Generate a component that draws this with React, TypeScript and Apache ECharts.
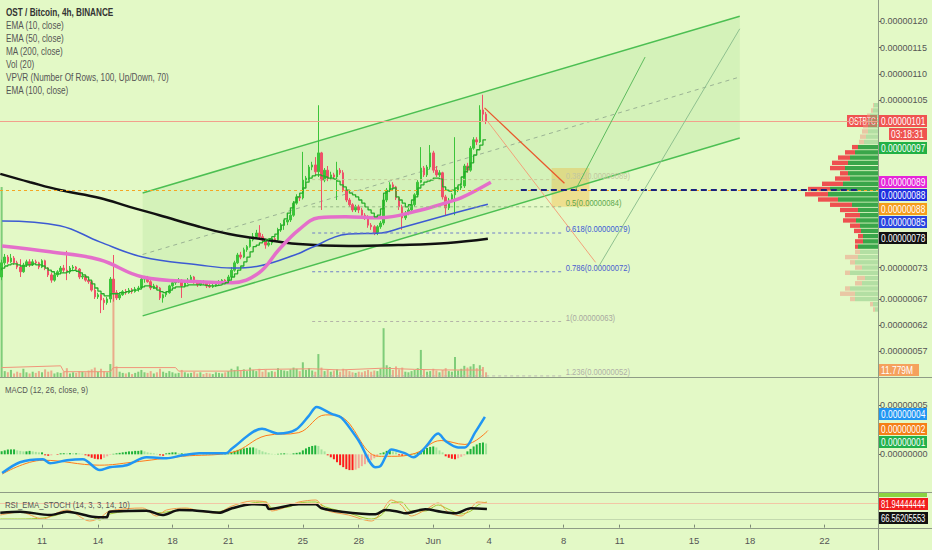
import React, { useEffect, useRef } from "react";
import * as echarts from "echarts";

const FONT = "'Liberation Sans', Arial, sans-serif";
const BG = "#e3f9c6";

// x values are days counted in May (32 = 1 June); prices are in satoshi (1e-8 BTC)
const X_MIN = 8.745;
const X_MAX = 55.87;
const FIRST_BAR_DAY = 8.833; // first 4h candle
const BARS_PER_DAY = 6;
const PRICE_MIN = 52.1;
const PRICE_MAX = 124.1;
const VOL_MAX = 641;

const xTickDays = [11, 14, 18, 21, 25, 28, 32, 35, 39, 42, 46, 49, 53];
const xTickLabels = ["11", "14", "18", "21", "25", "28", "Jun", "4", "8", "11", "15", "18", "22"];
const priceTicks = [57, 62, 67, 73, 105, 110, 115, 120];
const macdTicks = [0, 5];

// [open, close, low, high]
const candles: number[][] = [
  [71.2, 73.9, 70.6, 74.5], [73.9, 75.0, 73.5, 75.6], [75.0, 74.1, 73.7, 75.4], [74.1, 74.8, 73.9, 75.6],
  [74.8, 73.9, 73.5, 75.2], [73.9, 73.1, 72.7, 74.3], [73.1, 72.2, 71.2, 74.6], [72.2, 73.5, 72.0, 73.9],
  [73.5, 74.1, 73.1, 74.5], [74.1, 73.5, 73.1, 74.6], [73.5, 74.1, 73.3, 74.6], [74.1, 73.9, 73.5, 74.5],
  [73.9, 73.1, 72.7, 74.1], [73.1, 74.3, 72.9, 74.6], [74.3, 72.9, 72.5, 74.5], [72.9, 71.6, 71.2, 73.1],
  [71.6, 70.6, 70.1, 72.0], [70.6, 71.6, 70.3, 72.0], [71.6, 72.2, 71.2, 72.5], [72.2, 72.9, 71.8, 73.3],
  [72.9, 72.5, 72.0, 73.5], [72.5, 72.2, 70.6, 76.2], [72.2, 72.9, 71.8, 73.3], [72.9, 73.1, 72.5, 73.5],
  [73.1, 72.7, 72.5, 73.3], [72.7, 71.2, 70.8, 72.9], [71.2, 71.4, 70.8, 71.8], [71.4, 70.6, 70.3, 71.6],
  [70.6, 70.3, 69.9, 71.0], [70.3, 68.7, 68.4, 70.6], [68.7, 67.4, 67.0, 69.1], [67.4, 67.8, 67.0, 68.2],
  [67.8, 66.8, 64.3, 68.0], [66.8, 66.3, 64.9, 67.2], [66.3, 67.0, 65.9, 67.4], [67.0, 70.8, 66.3, 71.2],
  [70.8, 68.2, 66.5, 75.4], [68.2, 67.2, 66.8, 68.7], [67.2, 67.8, 66.8, 68.2], [67.8, 68.4, 67.6, 68.7],
  [68.4, 68.2, 67.8, 68.9], [68.2, 68.7, 68.0, 69.1], [68.7, 68.4, 68.0, 69.1], [68.4, 68.9, 68.2, 69.3],
  [68.9, 69.1, 68.4, 69.5], [69.1, 70.8, 68.9, 71.2], [70.8, 71.0, 70.1, 71.4], [71.0, 70.3, 70.1, 71.4],
  [70.3, 69.1, 68.7, 70.6], [69.1, 69.5, 68.9, 69.9], [69.5, 69.1, 68.7, 69.7], [69.1, 67.2, 66.8, 69.3],
  [67.2, 67.8, 66.3, 68.0], [67.8, 68.2, 67.4, 68.4], [68.2, 69.5, 68.0, 69.7], [69.5, 70.1, 69.3, 70.6],
  [70.1, 70.3, 69.7, 70.8], [70.3, 70.6, 70.1, 71.0], [70.6, 69.5, 67.2, 70.8], [69.5, 70.1, 69.3, 70.3],
  [70.1, 70.6, 69.9, 71.0], [70.6, 71.2, 70.3, 71.6], [71.2, 70.1, 69.9, 71.4], [70.1, 69.7, 69.3, 70.3],
  [69.7, 70.3, 69.5, 70.6], [70.3, 70.1, 69.7, 70.6], [70.1, 69.5, 69.1, 70.3], [69.5, 69.3, 69.1, 69.9],
  [69.3, 69.5, 69.1, 69.9], [69.5, 69.9, 69.3, 70.1], [69.9, 70.3, 69.7, 70.6], [70.3, 70.6, 70.1, 70.8],
  [70.6, 70.3, 70.1, 70.8], [70.3, 71.2, 70.1, 71.6], [71.2, 72.5, 71.0, 73.1], [72.5, 73.9, 72.2, 74.3],
  [73.9, 75.4, 73.7, 75.8], [75.4, 75.0, 74.6, 76.0], [75.0, 76.4, 74.8, 76.8], [76.4, 77.0, 76.0, 77.3],
  [77.0, 78.3, 76.8, 78.7], [78.3, 78.9, 78.0, 79.6], [78.9, 79.6, 78.5, 80.2], [79.6, 78.9, 78.5, 81.1],
  [78.9, 78.3, 78.0, 79.4], [78.3, 77.3, 76.6, 78.5], [77.3, 77.7, 77.0, 78.0], [77.7, 78.5, 77.3, 78.7],
  [78.5, 78.3, 77.9, 78.9], [78.3, 80.2, 78.0, 80.6], [80.2, 81.1, 79.8, 81.5], [81.1, 81.7, 80.2, 82.1],
  [81.7, 82.1, 81.1, 82.5], [82.1, 83.0, 81.7, 83.4], [83.0, 85.3, 82.7, 85.7], [85.3, 86.5, 85.0, 87.0],
  [86.5, 86.3, 85.7, 87.2], [86.3, 89.7, 86.0, 95.1], [89.7, 90.1, 88.4, 90.5], [90.1, 92.2, 89.7, 92.6],
  [92.2, 92.6, 91.6, 93.2], [92.6, 91.3, 90.7, 94.1], [91.3, 94.9, 90.3, 104.0], [94.9, 89.7, 84.0, 95.1],
  [89.7, 91.6, 89.3, 92.0], [91.6, 90.1, 89.5, 92.4], [90.1, 90.7, 89.7, 91.3], [90.7, 90.3, 89.9, 91.1],
  [90.3, 91.6, 85.9, 93.2], [91.6, 91.1, 90.7, 92.0], [91.1, 87.8, 87.4, 91.6], [87.8, 85.9, 85.5, 88.2],
  [85.9, 85.0, 84.6, 86.3], [85.0, 84.0, 83.6, 85.3], [84.0, 84.6, 83.6, 85.0], [84.6, 84.0, 83.4, 85.0],
  [84.0, 83.0, 82.5, 84.4], [83.0, 82.7, 82.1, 83.4], [82.7, 81.1, 80.6, 83.0], [81.1, 80.8, 80.2, 81.5],
  [80.8, 79.6, 79.2, 81.1], [79.6, 80.8, 79.2, 81.1], [80.8, 81.5, 80.4, 81.9], [81.5, 85.9, 81.1, 86.3],
  [85.9, 87.8, 85.5, 88.2], [87.8, 88.8, 87.4, 89.3], [88.8, 88.4, 87.8, 89.3], [88.4, 86.3, 85.9, 88.6],
  [86.3, 84.6, 84.0, 86.5], [84.6, 82.5, 80.2, 85.0], [82.5, 83.4, 82.1, 83.8], [83.4, 84.0, 83.0, 84.4],
  [84.0, 85.0, 83.6, 85.3], [85.0, 86.9, 84.6, 87.2], [86.9, 89.3, 86.5, 89.7], [89.3, 92.0, 89.1, 96.0],
  [92.0, 90.7, 90.3, 92.4], [90.7, 92.2, 90.3, 92.6], [92.2, 94.9, 91.8, 96.4], [94.9, 91.6, 91.1, 95.3],
  [91.6, 90.7, 90.3, 92.4], [90.7, 91.1, 90.3, 91.6], [91.1, 86.5, 86.0, 91.3], [86.5, 84.4, 83.0, 86.9],
  [84.4, 85.9, 84.0, 86.3], [85.9, 86.9, 85.5, 87.2], [86.9, 87.8, 83.0, 97.9], [87.8, 88.2, 87.4, 88.6],
  [88.2, 88.6, 87.8, 89.1], [88.6, 92.4, 88.2, 92.8], [92.4, 91.6, 91.1, 93.0], [91.6, 95.8, 91.3, 96.2],
  [95.8, 97.4, 95.5, 97.9], [97.4, 97.0, 96.4, 97.9], [97.0, 103.1, 96.8, 104.0], [103.1, 102.3, 101.0, 106.0],
  [102.3, 101.0, 100.4, 102.7],
];

// volume per candle, millions
const volumesM = [
  323,
  10, 8, 12, 6, 9, 7, 14, 8, 6, 9,
  7, 10, 8, 13, 9, 11, 6, 8, 7, 9,
  15, 6, 8, 7, 10, 9, 8, 11, 13, 16,
  9, 14, 10, 8, 22, 141, 18, 9, 7, 6,
  8, 5, 7, 9, 12, 8, 7, 10, 6, 8,
  14, 9, 7, 10, 8, 6, 7, 12, 8, 6,
  7, 9, 6, 8, 5, 7, 6, 5, 8, 7,
  6, 8, 10, 14, 12, 18, 11, 13, 10, 16,
  12, 10, 14, 9, 13, 8, 10, 9, 15, 12,
  11, 10, 13, 16, 14, 10, 25, 12, 15, 11,
  9, 39, 16, 10, 12, 9, 11, 13, 9, 14,
  12, 10, 8, 7, 9, 8, 10, 12, 9, 11,
  10, 14, 83, 20, 17, 12, 18, 13, 16, 9,
  8, 10, 12, 15, 46, 12, 9, 10, 14, 11,
  8, 12, 15, 10, 9, 34, 11, 14, 19, 16,
  18, 22, 15, 20, 17, 8,
];

// EMA(10) per candle (stepped green line)
const ema10 = [
  72.5, 72.9, 73.3, 73.5,
  73.7, 73.7, 73.5, 73.3, 73.3, 73.5, 73.5, 73.7, 73.5, 73.5,
  73.3, 72.9, 72.5, 72.2,
  71.8, 71.8, 72.0, 72.0, 72.2, 72.4, 72.5, 72.3, 72.0,
  71.6, 71.2, 70.6, 69.9, 69.1, 68.5,
  68.0, 67.6, 67.6, 68.0,
  68.0, 68.0, 68.2, 68.2,
  68.4, 68.5, 68.7, 68.7, 68.9,
  69.3, 69.5, 69.5, 69.3, 69.1,
  68.7, 68.4, 68.2,
  68.4, 68.7, 69.1, 69.3,
  69.3, 69.3, 69.5, 69.7, 69.7, 69.7, 69.7, 69.7, 69.6, 69.5,
  69.5, 69.5, 69.6, 69.7, 69.9, 70.1,
  70.6, 71.2, 71.8,
  72.5, 73.3, 74.1,
  75.0, 76.0, 77.0, 77.3,
  77.7, 78.0, 78.3, 78.5, 78.9,
  79.4, 80.2, 81.1, 82.3,
  83.4, 84.4, 85.5, 86.5, 87.2,
  88.2, 89.3,
  90.1, 90.5, 90.7, 90.7, 90.5, 90.3,
  90.1, 90.1, 89.9, 89.5,
  88.8, 88.4,
  87.8, 87.2, 86.9, 86.5,
  85.9, 85.3, 84.6, 84.0, 83.4, 82.7,
  83.0, 84.2,
  87.2, 87.6, 88.0, 88.2,
  86.5, 85.9, 85.3, 84.6,
  85.0, 85.9, 86.5,
  88.2, 88.8, 89.3, 89.5, 89.7,
  90.1, 90.1, 89.9,
  88.4, 87.8, 87.6,
  87.8, 88.2, 88.8,
  90.3, 91.3, 92.2, 93.0,
  94.5, 95.5, 96.4, 97.4,
];

// moving averages read at points [day, price]
const ema50Pts = [
  [8.86, 77.1], [11.43, 76.0], [14.1, 74.5], [16.4, 71.2], [19.44, 70.3], [21.2, 70.1], [22.65, 72.0],
  [23.71, 76.4], [24.78, 80.2], [25.85, 82.5], [27.29, 82.7], [29.06, 82.5], [31.35, 84.0], [32.79, 85.5],
  [33.49, 86.3], [35.09, 89.3],
];
const ema100Pts = [
  [8.86, 81.9], [11.96, 81.0], [14.1, 77.9], [16.4, 75.0], [19.44, 73.5], [21.2, 72.9], [22.65, 73.3],
  [24.78, 75.7], [25.32, 76.6], [27.45, 79.4], [29.22, 79.6], [30.28, 80.6], [32.79, 83.1], [34.93, 85.1],
];
const ma200Pts = [
  [8.76, 90.9], [10.36, 89.3], [11.96, 87.8], [14.1, 86.3], [15.7, 84.6], [17.3, 83.0], [19.44, 80.8],
  [21.04, 79.4], [22.27, 78.7], [24.78, 77.5], [27.45, 77.1], [30.12, 77.3], [32.79, 77.7], [34.93, 78.5],
];
const volMaPts = [
  [8.83, 16], [12.0, 19], [12.17, 9], [14.67, 9], [14.83, 16], [18.17, 16], [18.33, 10], [21, 10],
  [23, 13], [25.5, 14], [27, 12], [29.3, 15], [31, 13], [32.5, 12], [34.67, 11.8],
];

// MACD (sats)
const macdHist = [
  0.3, 0.4, 0.5, 0.5, 0.5, 0.4,
  0.35, 0.3, 0.3, 0.35, 0.3, 0.25, 0.2, 0.2,
  -0.1, -0.15, -0.1, 0, -0.05,
  0.1, 0.12, 0.1, 0.12, 0.1, 0.1, 0.08, 0.05,
  -0.1, -0.2, -0.35, -0.45, -0.5, -0.5, -0.35,
  -0.2, -0.05, 0.05, 0.1, 0.15,
  0.2, 0.25, 0.3, 0.3, 0.35, 0.35, 0.4, 0.3,
  0.2, 0.15, 0.1, 0.05,
  -0.1, -0.15,
  0.1, 0.15, 0.2, 0.2, 0.1,
  0.1, 0.08, 0.05, 0.05, 0.05, 0.03, 0.02, 0.02, 0.03, 0.03, 0.03, 0.02, 0.02, 0.02,
  0.05,
  0.1, 0.25, 0.35, 0.45, 0.55, 0.6, 0.65, 0.7, 0.7,
  0.6, 0.45, 0.3, 0.2,
  0.1, 0.05, 0.03, 0.05, 0.08, 0.1, 0.08, 0.05,
  0.1, 0.15,
  0.2, 0.4, 0.6, 0.75, 0.85, 0.9,
  0.85, 0.5, 0.3,
  -0.1, -0.3, -0.5, -0.8, -1.1, -1.3, -1.5, -1.6, -1.6, -1.55, -1.4,
  -1.2, -1.0, -0.8, -0.6, -0.4, -0.2,
  0.1, 0.2, 0.35, 0.4, 0.3, 0.2,
  -0.1, -0.15, -0.1, -0.05,
  0.05, 0.1, 0.2,
  0.3, 0.5, 0.65, 0.75, 0.8, 0.7,
  0.4, 0.2,
  -0.2, -0.35, -0.45, -0.5, -0.4,
  -0.25, -0.1,
  0.3, 0.55, 0.8, 1.0, 1.15, 1.2, 1.1,
];
const macdPts = [
  [8.86, -1.9], [9.82, -0.8], [11.05, -0.5], [11.43, -0.9], [12.34, -0.6], [13.19, -0.5], [14.1, -1.6],
  [14.63, -1.3], [15.54, -1.1], [16.61, -0.3], [17.68, -0.4], [18.53, -0.1], [19.44, 0.1], [20.88, 0.1],
  [21.2, 0.6], [22.81, 2.6], [23.71, 2.1], [24.62, 2.5], [25.32, 3.9], [25.74, 4.8], [26.54, 4.1],
  [27.08, 3.7], [27.99, 1.4], [28.9, -1.3], [29.16, -1.2], [29.75, 0.5], [30.5, 0.1], [30.93, -0.3],
  [31.57, 0.7], [32.26, 2.1], [32.69, 1.3], [33.33, 0.7], [33.7, 0.7], [34.24, 2.2], [34.77, 3.8],
];
const signalPts = [
  [8.86, -2.0], [11.05, -0.6], [14.1, -1.1], [15.86, -0.8], [18.53, -0.2], [21.2, 0.2], [23.02, 1.9],
  [24.78, 2.2], [26.22, 4.0], [26.92, 3.9], [29.06, -0.2], [29.75, -0.2], [31.03, 0.1], [32.42, 1.4],
  [33.7, 1.0], [34.93, 2.4],
];

// RSI_EMA_STOCH
const rsiPts = [
  [8.76, 44.8], [9.82, 48.5], [11.43, 36], [12.34, 48.5], [13.72, 29.8], [14.47, 27.5], [14.63, 48.5],
  [16.61, 52.3], [17.46, 36], [18.37, 54.9], [19.07, 54], [20.51, 44.8], [21.2, 61.3], [22.27, 76.3],
  [23.02, 73.6], [23.18, 58.6], [24.78, 76.3], [25.69, 76.3], [26.01, 61.3], [27.08, 48.5], [28.9, 38.8],
  [29.43, 54.9], [30.12, 48.5], [30.5, 42.5], [31.57, 57.5], [32.42, 48.5], [33.17, 42.5], [34.02, 61.3],
  [34.88, 58.6],
];
const stochKPts = [
  [8.76, 36.1], [9.82, 47.4], [11.05, 21.1], [11.8, 43.6], [12.34, 54.9], [13.56, 13.6], [14.1, 24.9],
  [14.63, 51.1], [16.4, 62.4], [17.14, 32.4], [17.68, 54.9], [18.75, 62.4], [19.44, 51.1], [20.35, 43.6],
  [21.2, 69.9], [22.27, 88.6], [23.02, 84.9], [23.34, 51.1], [24.25, 69.9], [24.78, 84.9], [25.69, 92.4],
  [26.22, 54.9], [27.45, 36.1], [28.68, 13.6], [29.22, 47.4], [29.75, 92.4], [30.28, 73.6], [30.82, 32.4],
  [31.57, 54.9], [32.26, 81.1], [32.79, 47.4], [33.49, 32.4], [34.02, 62.4], [34.4, 84.9], [34.88, 81.9],
];
const stochDPts = [
  [8.76, 21.1], [9.82, 21.1], [11.05, 24.9], [11.8, 36.1], [12.34, 47.4], [13.56, 32.4], [14.1, 17.4],
  [14.63, 39.9], [16.4, 54.9], [17.14, 43.6], [17.68, 47.4], [18.75, 58.6], [19.44, 51.1], [20.35, 47.4],
  [21.2, 62.4], [22.27, 81.1], [23.02, 84.9], [23.34, 62.4], [24.25, 66.1], [24.78, 81.1], [25.69, 84.9],
  [26.22, 66.1], [27.45, 43.6], [28.68, 21.1], [29.22, 36.1], [29.75, 81.1], [30.28, 84.9], [30.82, 51.1],
  [31.57, 51.1], [32.26, 73.6], [32.79, 58.6], [33.49, 39.9], [34.02, 51.1], [34.4, 73.6], [34.88, 84.9],
];
const rsiBands = [80, 20];

// volume profile rows: price (sats), up volume, down volume (arbitrary units)
const vpvrPrice = [65, 66, 67, 68, 69, 70, 71, 72, 73, 74, 75, 76, 77, 78, 79, 80, 81, 82, 83, 84, 85, 86, 87, 88, 89, 90, 91, 92, 93, 94, 95, 96, 97, 98, 99, 100, 101, 102, 103, 104];
const vpvrUp = [3, 5, 23, 23, 28, 16, 13, 28, 16, 23, 20, 18, 20, 15, 15, 17, 18, 22, 18, 20, 26, 40, 50, 48, 35, 28, 30, 33, 30, 28, 23, 20, 14, 12, 10, 10, 10, 8, 5, 4];
const vpvrDown = [2, 3, 5, 15, 5, 7, 8, 5, 7, 5, 13, 5, 3, 8, 5, 7, 10, 13, 15, 18, 22, 20, 23, 22, 21, 15, 8, 15, 16, 12, 10, 6, 5, 6, 6, 5, 4, 3, 2, 1];
const VALUE_AREA = [76.5, 96.5];

// drawings
const channelUpper = [[16.4, 87.25], [48.45, 121.0]];
const channelLower = [[16.4, 63.77], [48.45, 97.74]];
const channelMid = [[16.4, 75.5], [48.45, 109.4]];
const fibLevels = [0.382, 0.5, 0.618, 0.786, 1, 1.236];
const fibPrices = [89.8, 84.6, 79.6, 72.2, 62.7, 52.3];
const fibShown = ["0.00000089", "0.00000084", "0.00000079", "0.00000072", "0.00000063", "0.00000052"];
const fibLineColors = ["#c4cc9a", "#98b888", "#6f7fc8", "#6f7fc8", "#b4b4a8", "#bcbcb0"];
const fibTextColors = ["#c2c8a0", "#5ea84d", "#3b5bd6", "#4a5cd0", "#a8a8a0", "#b0b0a6"];
const FIB_START = 25.5;
const FIB_END = 38.95;
const arrows = [
  { from: [34.75, 103.5], to: [39.04, 89.1], color: "#e8582c", width: 1.3 },
  { from: [34.9, 101.0], to: [40.71, 74.0], color: "#f2a27a", width: 1 },
  { from: [39.63, 87.8], to: [43.37, 113.2], color: "#5dbb5d", width: 1 },
  { from: [40.81, 72.8], to: [48.45, 118.6], color: "#8fc08f", width: 1 },
];
const LAST_PRICE = 101.0;
const ORANGE_LEVEL = 87.8;
const navyLine = [[36.7, 87.8], [54.9, 87.8]];
const yellowBox = [[38.35, 92.0], [40.38, 84.6]];

const legendLines = [
  "EMA (10, close)",
  "EMA (50, close)",
  "MA (200, close)",
  "Vol (20)",
  "VPVR (Number Of Rows, 100, Up/Down, 70)",
  "EMA (100, close)",
];

// right-axis price tags: [text, left x, center y, width, fill, horizontal text scale]
const tags: [string, number, number, number, string, number][] = [
  ["OSTBTC", 847, 121, 30, "#ef5350", 0.66],
  ["0.00000101", 879, 121, 48, "#ef5350", 0.84],
  ["03:18:31", 889, 134, 38, "#ef5350", 0.84],
  ["0.00000097", 879, 148, 48, "#22b145", 0.84],
  ["0.00000089", 879, 182, 48, "#e526d9", 0.84],
  ["0.00000088", 879, 195, 48, "#1f2fe0", 0.84],
  ["0.00000088", 879, 209, 48, "#f59d1b", 0.84],
  ["0.00000085", 879, 222, 48, "#2845e0", 0.84],
  ["0.00000078", 879, 238, 48, "#111111", 0.84],
  ["11.779M", 879, 370, 40, "#f5a15d", 0.84],
  ["0.00000004", 879, 414, 48, "#2196f3", 0.84],
  ["0.00000002", 879, 429, 48, "#f57f17", 0.84],
  ["0.00000001", 879, 442, 48, "#22b14c", 0.84],
  ["81.94444444", 879, 504, 49, "#f21d1d", 0.76],
  ["66.56205553", 879, 518, 49, "#111111", 0.76],
];

const barDay = (i: number) => FIRST_BAR_DAY + i / BARS_PER_DAY;
const satLabel = (v: number) => (v * 1e-8).toFixed(8);

export default function App() {
  const ref = useRef<HTMLDivElement>(null);

  useEffect(() => {
    if (!ref.current) return;
    const chart = echarts.init(ref.current, null, { renderer: "svg" });

    const candleData = candles.map((c, i) => [barDay(i), c[0], c[1], c[2], c[3]]);
    const volData = volumesM.map((v, i) => ({
      value: [barDay(i), v],
      itemStyle: { color: candles[i][1] >= candles[i][0] ? "rgba(60,175,70,0.6)" : "rgba(238,120,100,0.6)" },
    }));
    const ema10Data = ema10.map((v, i) => [barDay(i), v]);
    const histData = macdHist.map((v, i) => {
      const prev = i > 0 ? macdHist[i - 1] : v;
      let color;
      if (v >= 0) color = v >= prev ? "#1fb23a" : "#a3e39c";
      else color = v <= prev ? "#ff1c1c" : "#f4a899";
      return { value: [barDay(i), v], itemStyle: { color } };
    });
    const vpvrData = vpvrPrice.map((p, i) => [p, vpvrUp[i], vpvrDown[i]]);
    const fibData = fibPrices.map((p, k) => [FIB_END, p, k]);

    const lineSeries = (name: string, data: any, color: string, width: number, extra: any = {}) => ({
      name,
      type: "line",
      data,
      symbol: "none",
      silent: true,
      lineStyle: { color, width },
      ...extra,
    });

    const tagGraphics = tags.map(([text, x, yc, w, fill, sx]) => ({
      type: "group",
      x,
      y: yc - 6,
      z: 100,
      children: [
        { type: "rect", shape: { x: 0, y: 0, width: w, height: 12 }, style: { fill } },
        {
          type: "text",
          x: 2,
          y: 6.5,
          scaleX: sx,
          style: { text, fill: "#ffffff", fontSize: 10, fontFamily: FONT, verticalAlign: "middle" },
        },
      ],
    }));

    const txt = (text: string, x: number, y: number, size: number, color: string, bold = false) => ({
      type: "text",
      x,
      y,
      z: 100,
      scaleX: 0.82,
      style: { text, fill: color, fontSize: size, fontWeight: bold ? "bold" : "normal", fontFamily: FONT, verticalAlign: "middle" },
    });

    const textGraphics: any[] = [
      txt("OST / Bitcoin, 4h, BINANCE", 6, 13, 10, "#333333", true),
      ...legendLines.map((t, k) => txt(t, 6, 25.5 + k * 13, 10, "#555555")),
      txt("MACD (12, 26, close, 9)", 5, 390, 9.5, "#555555"),
      txt("RSI_EMA_STOCH (14, 3, 3, 14, 10)", 5, 505, 9.5, "#555555"),
    ];

    const sep = (x1: number, y1: number, x2: number, y2: number) => ({
      type: "line",
      z: 90,
      shape: { x1, y1, x2, y2 },
      style: { stroke: "#8f9c86", lineWidth: 1 },
    });

    const option: any = {
      animation: false,
      backgroundColor: BG,
      textStyle: { fontFamily: FONT },
      grid: [
        { left: 0, right: 54, top: 0, height: 377 },
        { left: 0, right: 54, top: 378, height: 114 },
        { left: 0, right: 54, top: 493, height: 35 },
        { right: 54, width: 100, top: 0, height: 377 },
      ],
      xAxis: [
        { type: "value", gridIndex: 0, min: X_MIN, max: X_MAX, show: false },
        { type: "value", gridIndex: 1, min: X_MIN, max: X_MAX, show: false },
        {
          type: "value",
          gridIndex: 2,
          min: X_MIN,
          max: X_MAX,
          axisLine: { show: false },
          splitLine: { show: false },
          axisTick: { show: true, customValues: xTickDays, length: 3, lineStyle: { color: "#7d8a75" } },
          axisLabel: {
            customValues: xTickDays,
            formatter: (v: number) => {
              const k = xTickDays.indexOf(v);
              return k >= 0 ? xTickLabels[k] : "";
            },
            color: "#555555",
            fontSize: 9.5,
            fontFamily: FONT,
            margin: 7,
          },
        },
        { type: "value", gridIndex: 3, min: 0, max: 100, inverse: true, show: false },
      ],
      yAxis: [
        {
          type: "value",
          gridIndex: 0,
          position: "right",
          min: PRICE_MIN,
          max: PRICE_MAX,
          axisLine: { show: false },
          splitLine: { show: false },
          axisTick: { show: true, customValues: priceTicks, length: 3, lineStyle: { color: "#666666" } },
          axisLabel: { customValues: priceTicks, formatter: satLabel, color: "#555555", fontSize: 9, fontFamily: FONT, margin: 2 },
        },
        { type: "value", gridIndex: 0, min: 0, max: VOL_MAX, show: false },
        {
          type: "value",
          gridIndex: 1,
          position: "right",
          min: -3.82,
          max: 7.74,
          axisLine: { show: false },
          splitLine: { show: false },
          axisTick: { show: true, customValues: macdTicks, length: 3, lineStyle: { color: "#666666" } },
          axisLabel: { customValues: macdTicks, formatter: satLabel, color: "#555555", fontSize: 9, fontFamily: FONT, margin: 2 },
        },
        { type: "value", gridIndex: 2, min: -12.6, max: 118.6, show: false },
        { type: "value", gridIndex: 3, min: PRICE_MIN, max: PRICE_MAX, show: false },
      ],
      series: [
        {
          name: "channel",
          type: "custom",
          xAxisIndex: 0,
          yAxisIndex: 0,
          z: 1,
          silent: true,
          data: [channelUpper[0]],
          renderItem: (_params: any, api: any) => {
            const u0 = api.coord(channelUpper[0]);
            const u1 = api.coord(channelUpper[1]);
            const l0 = api.coord(channelLower[0]);
            const l1 = api.coord(channelLower[1]);
            const m0 = api.coord(channelMid[0]);
            const m1 = api.coord(channelMid[1]);
            return {
              type: "group",
              children: [
                { type: "polygon", shape: { points: [u0, u1, l1, l0] }, style: { fill: "rgba(90,190,80,0.11)" } },
                { type: "line", shape: { x1: u0[0], y1: u0[1], x2: u1[0], y2: u1[1] }, style: { stroke: "#4cbf52", lineWidth: 1.5 } },
                { type: "line", shape: { x1: l0[0], y1: l0[1], x2: l1[0], y2: l1[1] }, style: { stroke: "#4cbf52", lineWidth: 1.5 } },
                { type: "line", shape: { x1: m0[0], y1: m0[1], x2: m1[0], y2: m1[1] }, style: { stroke: "#9bb394", lineWidth: 1, lineDash: [4, 4] } },
              ],
            };
          },
        },
        {
          name: "levels",
          type: "line",
          xAxisIndex: 0,
          yAxisIndex: 0,
          data: [],
          z: 2,
          markLine: {
            silent: true,
            symbol: ["none", "none"],
            label: { show: false },
            data: [
              { yAxis: LAST_PRICE, lineStyle: { color: "#f2a08c", width: 1, type: "solid" } },
              { yAxis: ORANGE_LEVEL, lineStyle: { color: "#f5a623", width: 1, type: [3, 3] } },
              [
                { coord: navyLine[0], lineStyle: { color: "#1a237e", width: 2, type: [6, 4] } },
                { coord: navyLine[1] },
              ],
            ],
          },
          markArea: {
            silent: true,
            itemStyle: { color: "rgba(255,175,40,0.35)" },
            data: [[{ coord: yellowBox[0] }, { coord: yellowBox[1] }]],
          },
        },
        {
          name: "fib",
          type: "custom",
          xAxisIndex: 0,
          yAxisIndex: 0,
          z: 4,
          silent: true,
          data: fibData,
          renderItem: (_params: any, api: any) => {
            const k = api.value(2);
            const a = api.coord([FIB_START, fibPrices[k]]);
            const b = api.coord([FIB_END, fibPrices[k]]);
            return {
              type: "group",
              children: [
                { type: "line", shape: { x1: a[0], y1: a[1], x2: b[0], y2: b[1] }, style: { stroke: fibLineColors[k], lineWidth: 1, lineDash: [3, 3] } },
                {
                  type: "text",
                  x: b[0] + 3,
                  y: b[1] - 4,
                  scaleX: 0.8,
                  style: {
                    text: `${fibLevels[k]}(${fibShown[k]})`,
                    fill: fibTextColors[k],
                    fontSize: 9.5,
                    fontFamily: FONT,
                    verticalAlign: "middle",
                  },
                },
              ],
            };
          },
        },
        {
          name: "Vol",
          type: "bar",
          xAxisIndex: 0,
          yAxisIndex: 1,
          barWidth: 2,
          silent: true,
          data: volData,
        },
        lineSeries("Vol MA", volMaPts, "#f0957a", 1, { xAxisIndex: 0, yAxisIndex: 1 }),
        lineSeries("MA200", ma200Pts, "#111111", 2.5, { xAxisIndex: 0, yAxisIndex: 0, smooth: 0.4 }),
        lineSeries("EMA100", ema100Pts, "#3c5ad2", 1.5, { xAxisIndex: 0, yAxisIndex: 0, smooth: 0.4 }),
        lineSeries("EMA50", ema50Pts, "#e46fca", 3.5, { xAxisIndex: 0, yAxisIndex: 0, smooth: 0.4 }),
        lineSeries("EMA10", ema10Data, "#27ad2a", 1.3, { xAxisIndex: 0, yAxisIndex: 0, step: "start" }),
        {
          name: "OSTBTC",
          type: "candlestick",
          xAxisIndex: 0,
          yAxisIndex: 0,
          barWidth: 2,
          silent: true,
          encode: { x: 0, y: [1, 2, 3, 4] },
          data: candleData,
          itemStyle: { color: "#3cc43a", color0: "#ef5169", borderColor: "#3cc43a", borderColor0: "#ef5169", borderWidth: 1 },
        },
        {
          name: "arrows",
          type: "line",
          xAxisIndex: 0,
          yAxisIndex: 0,
          data: [],
          z: 5,
          markLine: {
            silent: true,
            symbol: ["none", "arrow"],
            symbolSize: [0, 7],
            label: { show: false },
            data: arrows.map((a) => [
              { coord: a.from, lineStyle: { color: a.color, width: a.width, type: "solid" }, itemStyle: { color: a.color } },
              { coord: a.to },
            ]),
          },
        },
        {
          name: "hist",
          type: "bar",
          xAxisIndex: 1,
          yAxisIndex: 2,
          barWidth: 2,
          silent: true,
          data: histData,
        },
        lineSeries("signal", signalPts, "#ff7a1a", 1, { xAxisIndex: 1, yAxisIndex: 2, smooth: 0.4 }),
        lineSeries("MACD", macdPts, "#2196f3", 2.5, { xAxisIndex: 1, yAxisIndex: 2, smooth: 0.3 }),
        lineSeries("stochD", stochDPts, "#a2c832", 1, { xAxisIndex: 2, yAxisIndex: 3, smooth: 0.3 }),
        lineSeries("stochK", stochKPts, "#f39a4c", 1, { xAxisIndex: 2, yAxisIndex: 3, smooth: 0.3 }),
        lineSeries("RSI", rsiPts, "#111111", 2.5, {
          xAxisIndex: 2,
          yAxisIndex: 3,
          smooth: 0.3,
          markLine: {
            silent: true,
            symbol: ["none", "none"],
            label: { show: false },
            data: [
              { yAxis: rsiBands[0], lineStyle: { color: "#f2c6a6", width: 1, type: "solid" } },
              { yAxis: rsiBands[1], lineStyle: { color: "#c3d9ae", width: 1, type: "solid" } },
            ],
          },
        }),
        {
          name: "VPVR",
          type: "custom",
          xAxisIndex: 3,
          yAxisIndex: 4,
          silent: true,
          z: 3,
          data: vpvrData,
          renderItem: (_params: any, api: any) => {
            const p = api.value(0);
            const up = api.value(1);
            const dn = api.value(2);
            const pale = p < VALUE_AREA[0] || p > VALUE_AREA[1];
            const top = api.coord([0, p + 0.42]);
            const bot = api.coord([0, p - 0.42]);
            const xUp = api.coord([up, p])[0];
            const xDn = api.coord([up + dn, p])[0];
            const h = bot[1] - top[1];
            return {
              type: "group",
              children: [
                { type: "rect", shape: { x: xUp, y: top[1], width: top[0] - xUp, height: h }, style: { fill: pale ? "rgba(120,190,120,0.45)" : "#3aa64a" } },
                { type: "rect", shape: { x: xDn, y: top[1], width: xUp - xDn, height: h }, style: { fill: pale ? "rgba(240,150,130,0.5)" : "#ee5050" } },
              ],
            };
          },
        },
      ],
      graphic: [
        sep(0, 377.5, 932, 377.5),
        sep(0, 492.5, 932, 492.5),
        sep(0, 528.5, 932, 528.5),
        sep(878.5, 0, 878.5, 550),
        { type: "rect", z: 99, shape: { x: 879, y: 493, width: 48, height: 4 }, style: { fill: "#8bd341" } },
        ...tagGraphics,
        ...textGraphics,
      ],
    };

    chart.setOption(option);
    return () => chart.dispose();
  }, []);

  return <div ref={ref} style={{ position: "fixed", left: 0, top: 0, width: 932, height: 550 }} />;
}
